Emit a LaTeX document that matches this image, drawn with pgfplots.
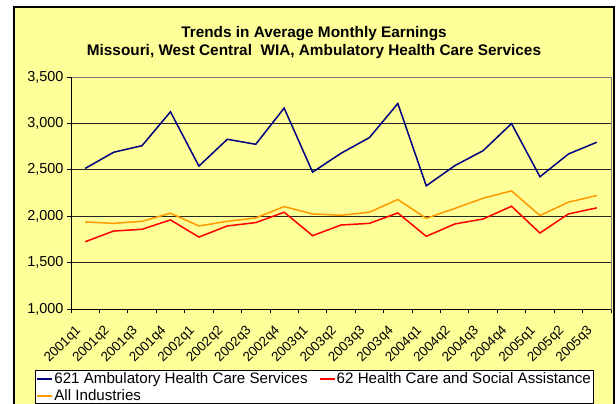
\documentclass[border=0pt]{standalone}
\usepackage{fontspec}
\setmainfont{Liberation Sans}
\usepackage{pgfplots}
\usepackage{pgfplotstable}
\pgfplotsset{compat=1.18}
\definecolor{chartyellow}{HTML}{FFFF99}
\definecolor{navyline}{HTML}{000080}
\definecolor{orangeline}{HTML}{FF9900}
\definecolor{redline}{HTML}{FF0000}

\pgfplotstableread{
idx amb hcsa all
0 2515 1725 1938
1 2689 1840 1923
2 2760 1859 1945
3 3125 1960 2032
4 2540 1775 1895
5 2829 1895 1945
6 2775 1931 1981
7 3165 2043 2104
8 2475 1790 2024
9 2678 1905 2010
10 2847 1923 2043
11 3214 2035 2180
12 2327 1783 1977
13 2544 1916 2083
14 2706 1970 2194
15 2998 2107 2273
16 2425 1819 2007
17 2670 2024 2151
18 2797 2090 2223
}\data

\begin{document}
\begin{tikzpicture}
\useasboundingbox (-71bp,-95bp) rectangle (545bp,309bp);
\fill[white] (-71bp,-95bp) rectangle (545bp,309bp);
\filldraw[fill=chartyellow, draw=black, line width=1.2bp] (-57bp,-120bp) rectangle (543bp,302bp);
\node[font=\bfseries\fontsize{15.4}{18}\selectfont, anchor=base, inner sep=0pt] at (243bp,271.5bp) {Trends in Average Monthly Earnings};
\node[font=\bfseries\fontsize{15.4}{18}\selectfont, anchor=base, inner sep=0pt] at (243bp,253.5bp) {Missouri, West Central\ \ WIA, Ambulatory Health Care Services};
\begin{axis}[
  scale only axis, width=540bp, height=232bp,
  xmin=-0.5, xmax=18.5, ymin=1000, ymax=3500,
  axis background/.style={fill=chartyellow},
  axis line style={draw=gray, line width=0.8bp},
  ytick={1000,1500,2000,2500,3000,3500},
  scaled y ticks=false,
  /pgf/number format/1000 sep={,},
  /pgf/number format/assume math mode=true,
  ymajorgrids, major grid style={black!85, line width=0.8bp},
  xtick={0,...,18},
  xticklabels={2001q1,2001q2,2001q3,2001q4,2002q1,2002q2,2002q3,2002q4,2003q1,2003q2,2003q3,2003q4,2004q1,2004q2,2004q3,2004q4,2005q1,2005q2,2005q3},
  minor xtick={-0.5,0.5,...,18.5},
  major x tick style={draw=none},
  minor x tick style={black, line width=0.8bp},
  major y tick style={black, line width=0.8bp},
  tick align=outside, tick pos=left,
  major tick length=4bp, minor tick length=4bp,
  x tick label style={xshift=-5.5bp, yshift=-15bp, rotate=45, anchor=east, font=\fontsize{13.5}{16}\selectfont, inner sep=1bp},
  y tick label style={font=\fontsize{14.5}{17}\selectfont},
  legend style={
    at={(axis description cs:-0.0667,-0.263)}, anchor=north west,
    draw=black, fill=white, line width=0.8bp,
    font=\fontsize{15.2}{17}\selectfont,
    inner xsep=1bp, inner ysep=1bp,
    nodes={inner sep=1bp},
    row sep=2.5bp,
    /tikz/every even column/.append style={column sep=10bp},
  },
  legend columns=2,
  legend cell align=left,
  legend image code/.code={\draw[#1, line width=2bp] (0bp,0bp) -- (15bp,0bp);},
]
\addplot[navyline, line width=1.5bp] table[x=idx, y=amb] {\data};
\addlegendentry{621 Ambulatory Health Care Services}
\addplot[redline, line width=1.5bp] table[x=idx, y=hcsa] {\data};
\addlegendentry{62 Health Care and Social Assistance}
\addplot[orangeline, line width=1.5bp] table[x=idx, y=all] {\data};
\addlegendentry{All Industries}
\draw[black, line width=0.8bp] (rel axis cs:0,1) -- (rel axis cs:0,0) -- (rel axis cs:1,0);
\end{axis}
\end{tikzpicture}
\end{document}
